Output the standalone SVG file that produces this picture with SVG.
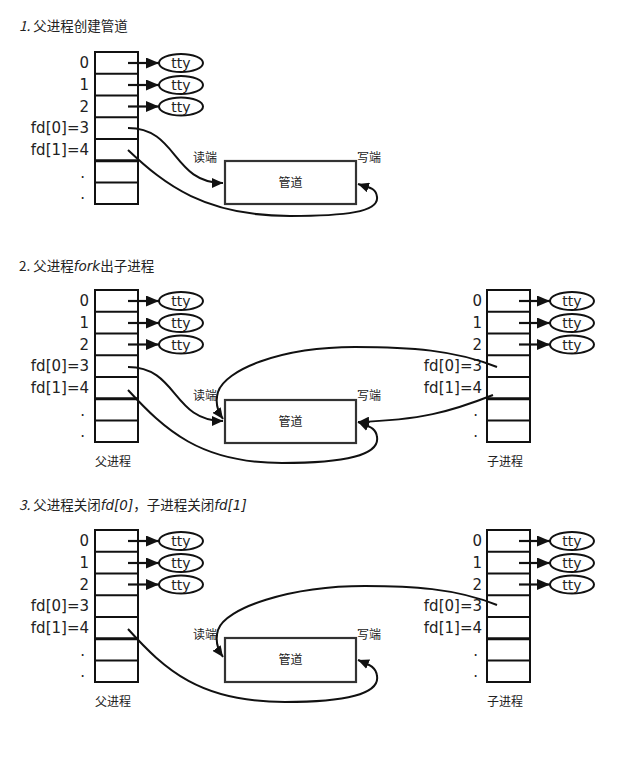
<svg xmlns="http://www.w3.org/2000/svg" width="632" height="759" viewBox="0 0 632 759">
<style>
.tbl{fill:#fff;stroke:#111;stroke-width:2}
.row{stroke:#111;stroke-width:2}
.thick{stroke:#111;stroke-width:3}
.lbl{font-family:"DejaVu Sans","Noto Sans CJK SC",sans-serif;font-size:15px;fill:#222;text-anchor:end}
.tty{fill:#fff;stroke:#111;stroke-width:2}
.ttyt{font-family:"DejaVu Sans",sans-serif;font-size:14px;fill:#222;text-anchor:middle}
.ar{stroke:#111;stroke-width:2.2;fill:none}
.cv{stroke:#111;stroke-width:2;fill:none}
.pipe{fill:#fff;stroke:#333;stroke-width:2.2}
.cjk{font-family:"Noto Sans CJK SC","DejaVu Sans",sans-serif;font-size:12px;fill:#222}
.title{font-family:"Noto Sans CJK SC","DejaVu Sans",sans-serif;font-size:13.5px;fill:#222}
</style>
<defs>
<marker id="ah" markerUnits="userSpaceOnUse" markerWidth="13" markerHeight="11" refX="13" refY="5.5" orient="auto"><path d="M0,0 L13,5.5 L0,11 z" fill="#111"/></marker>
<marker id="ah2" markerUnits="userSpaceOnUse" markerWidth="11" markerHeight="10" refX="11" refY="5" orient="auto"><path d="M0,0 L11,5 L0,10 z" fill="#111"/></marker>
<g id="fdtable">
<rect class="tbl" x="0" y="0" width="43" height="152"/>
<line class="row" x1="0" y1="21.75" x2="43" y2="21.75"/>
<line class="row" x1="0" y1="43.5" x2="43" y2="43.5"/>
<line class="row" x1="0" y1="65.25" x2="43" y2="65.25"/>
<line class="row" x1="0" y1="87" x2="43" y2="87"/>
<line class="thick" x1="0" y1="108.75" x2="43" y2="108.75"/>
<line class="row" x1="0" y1="130.5" x2="43" y2="130.5"/>
</g>
<g id="ttyset">
<line class="ar" x1="0" y1="11" x2="31" y2="11" marker-end="url(#ah)"/>
<line class="ar" x1="0" y1="33" x2="31" y2="33" marker-end="url(#ah)"/>
<line class="ar" x1="0" y1="54.5" x2="31" y2="54.5" marker-end="url(#ah)"/>
<ellipse class="tty" cx="53" cy="11" rx="22" ry="9"/>
<ellipse class="tty" cx="53" cy="33" rx="22" ry="9"/>
<ellipse class="tty" cx="53" cy="54.5" rx="22" ry="9"/>
<text class="ttyt" x="53" y="16">tty</text>
<text class="ttyt" x="53" y="38">tty</text>
<text class="ttyt" x="53" y="59.5">tty</text>
</g>
<g id="labels">
<text class="lbl" x="89" y="16">0</text>
<text class="lbl" x="89" y="38">1</text>
<text class="lbl" x="89" y="60">2</text>
<text class="lbl" x="89" y="81">fd[0]=3</text>
<text class="lbl" x="89" y="103">fd[1]=4</text>
<text class="lbl" x="85" y="126">.</text>
<text class="lbl" x="85" y="147">.</text>
</g>
</defs>

<!-- Section 1 -->
<text class="title" x="19" y="31"><tspan font-style="italic">1.</tspan> 父进程创建管道</text>
<g id="parent1">
<use href="#fdtable" x="95" y="52"/>
<use href="#labels" x="0" y="52"/>
</g>
<g id="tty1"><use href="#ttyset" x="128" y="52"/></g>
<g id="pipe1">
<rect class="pipe" x="225" y="161" width="131" height="43"/>
<text class="cjk" x="290.5" y="187" text-anchor="middle">管道</text>
<text class="cjk" x="193" y="162">读端</text>
<text class="cjk" x="357" y="162">写端</text>
</g>

<!-- Section 2 -->
<text class="title" x="19" y="271">2. 父进程<tspan font-style="italic" font-family="DejaVu Sans, sans-serif">fork</tspan>出子进程</text>
<g id="parent2">
<use href="#fdtable" x="95" y="290"/>
<use href="#labels" x="0" y="290"/>
<text class="cjk" x="113" y="466" text-anchor="middle">父进程</text>
</g>
<g id="tty2"><use href="#ttyset" x="128" y="290"/></g>
<g id="child2">
<use href="#fdtable" x="487" y="290"/>
<use href="#labels" x="393" y="290"/>
<text class="cjk" x="505" y="466" text-anchor="middle">子进程</text>
</g>
<g id="tty2c"><use href="#ttyset" x="519" y="290"/></g>
<g id="pipe2">
<rect class="pipe" x="225" y="400" width="131" height="43"/>
<text class="cjk" x="290.5" y="426" text-anchor="middle">管道</text>
<text class="cjk" x="193" y="400">读端</text>
<text class="cjk" x="357" y="400">写端</text>
</g>

<!-- Section 3 -->
<text class="title" x="19" y="510"><tspan font-style="italic">3.</tspan> 父进程关闭<tspan font-style="italic" font-family="DejaVu Sans, sans-serif">fd[0]</tspan>，子进程关闭<tspan font-style="italic" font-family="DejaVu Sans, sans-serif">fd[1]</tspan></text>
<g id="parent3">
<use href="#fdtable" x="95" y="530"/>
<use href="#labels" x="0" y="530"/>
<text class="cjk" x="113" y="706" text-anchor="middle">父进程</text>
</g>
<g id="tty3"><use href="#ttyset" x="128" y="530"/></g>
<g id="child3">
<use href="#fdtable" x="487" y="530"/>
<use href="#labels" x="393" y="530"/>
<text class="cjk" x="505" y="706" text-anchor="middle">子进程</text>
</g>
<g id="tty3c"><use href="#ttyset" x="519" y="530"/></g>
<g id="pipe3">
<rect class="pipe" x="225" y="638" width="131" height="44"/>
<text class="cjk" x="290.5" y="664" text-anchor="middle">管道</text>
<text class="cjk" x="193" y="639">读端</text>
<text class="cjk" x="357" y="639">写端</text>
</g>

<g id="connectors">
<path class="cv" d="M128,128 C178,128 172,183 223,183" marker-end="url(#ah2)"/>
<path class="cv" d="M128,150 C165,185 205,216 290,216 C345,216 379,212 377,197 C376,188 370,188 358,184" marker-end="url(#ah2)"/>

<path class="cv" d="M128,367 C178,367 172,421 223,421" marker-end="url(#ah2)"/>
<path class="cv" d="M128,390 C165,430 200,463 282,463 C345,463 380,455 377,437 C376,428 370,427 358,422" marker-end="url(#ah2)"/>
<path class="cv" d="M497,367 C455,350 410,347 355,347 C280,347 225,370 218,392 C215,402 218,412 223,419" marker-end="url(#ah2)"/>
<path class="cv" d="M493,395 C450,412 420,420 358,422" marker-end="url(#ah2)"/>

<path class="cv" d="M128,629 C165,670 200,702 285,702 C345,702 380,694 377,676 C376,667 370,665 358,660" marker-end="url(#ah2)"/>
<path class="cv" d="M497,605 C455,588 410,586 365,586 C290,586 225,608 218,630 C215,640 218,650 223,657" marker-end="url(#ah2)"/>
</g>
</svg>
